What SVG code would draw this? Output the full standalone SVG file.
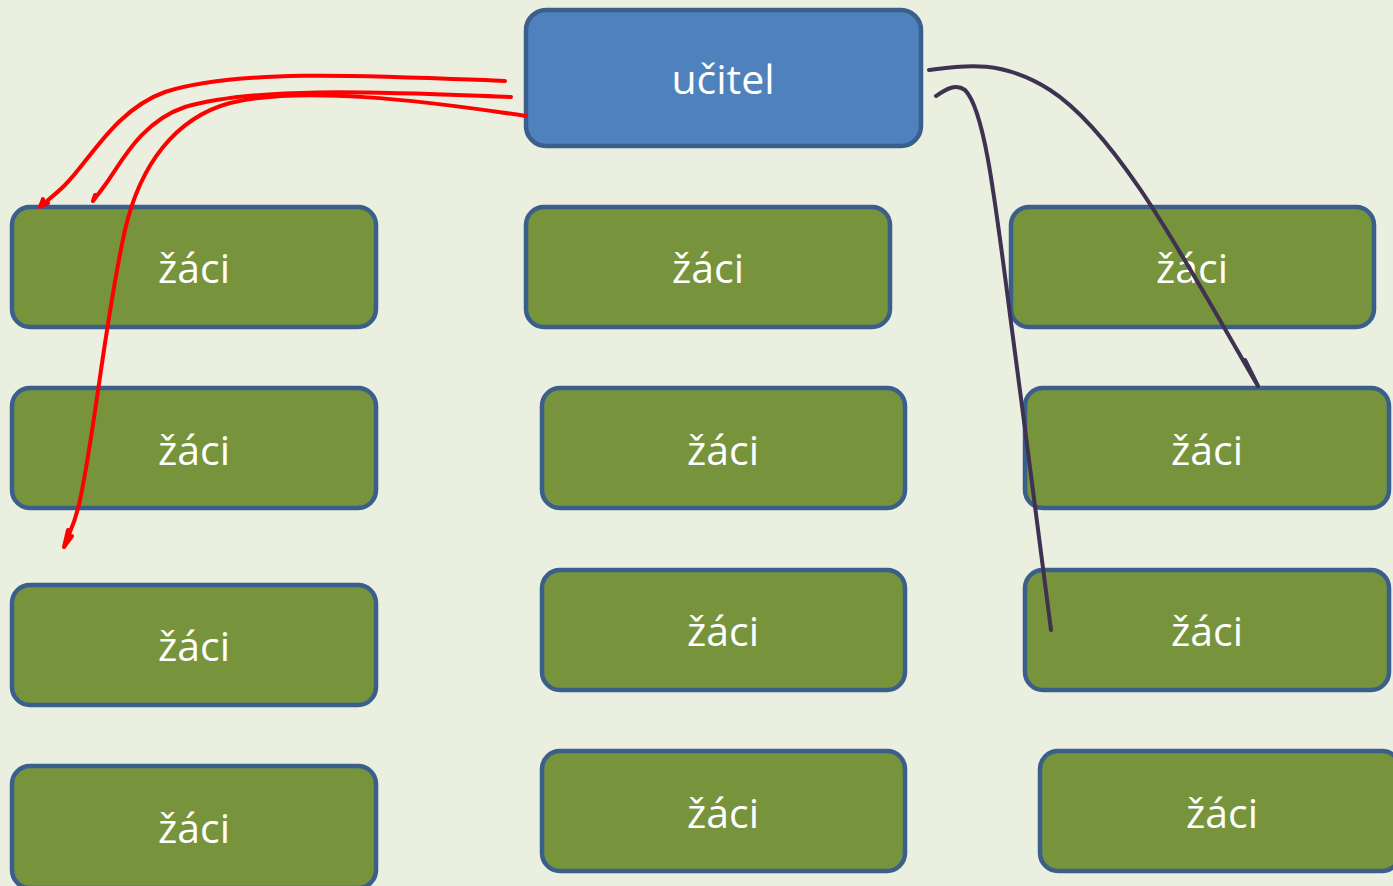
<svg xmlns="http://www.w3.org/2000/svg" width="1393" height="886" viewBox="0 0 1393 886">
<style>
.bg{fill:#EBEFDF}
.t{fill:#4F81BD;stroke:#3A5F8B;stroke-width:4.5}
.g{fill:#77933C;stroke:#3A5F8B;stroke-width:4.5}
text{font-family:"Open Sans","Noto Sans","Liberation Sans",sans-serif;font-size:41px;fill:#FFFFFF;text-anchor:middle}
.red{fill:none;stroke:#FF0000;stroke-width:4;stroke-linecap:round;stroke-linejoin:round}
.ink{fill:none;stroke:#3F3151;stroke-width:4;stroke-linecap:round;stroke-linejoin:round}
</style>
<rect class="bg" x="0" y="0" width="1393" height="886"/>
<g id="ucitel"><rect class="t" x="526" y="10" width="395" height="136" rx="20"/><text x="723" y="94">učitel</text></g>
<g id="n11"><rect class="g" x="12" y="207" width="364" height="120" rx="18"/><text x="194" y="283">žáci</text></g>
<g id="n21"><rect class="g" x="12" y="388" width="364" height="120" rx="18"/><text x="194" y="465">žáci</text></g>
<g id="n31"><rect class="g" x="12" y="585" width="364" height="120" rx="18"/><text x="194" y="661">žáci</text></g>
<g id="n41"><rect class="g" x="12" y="766" width="364" height="122" rx="18"/><text x="194" y="843">žáci</text></g>
<g id="n12"><rect class="g" x="526" y="207" width="364" height="120" rx="18"/><text x="708" y="283">žáci</text></g>
<g id="n22"><rect class="g" x="542" y="388" width="363" height="120" rx="18"/><text x="723" y="465">žáci</text></g>
<g id="n32"><rect class="g" x="542" y="570" width="363" height="120" rx="18"/><text x="723" y="646">žáci</text></g>
<g id="n42"><rect class="g" x="542" y="751" width="363" height="120" rx="18"/><text x="723" y="828">žáci</text></g>
<g id="n13"><rect class="g" x="1011" y="207" width="363" height="120" rx="18"/><text x="1192" y="283">žáci</text></g>
<g id="n23"><rect class="g" x="1025" y="388" width="364" height="120" rx="18"/><text x="1207" y="465">žáci</text></g>
<g id="n33"><rect class="g" x="1025" y="570" width="364" height="120" rx="18"/><text x="1207" y="646">žáci</text></g>
<g id="n43"><rect class="g" x="1040" y="751" width="360" height="120" rx="18"/><text x="1222" y="828">žáci</text></g>
<g id="connectors">
<path class="red" d="M505,81 C380,76 240,68 165,92 C115,110 90,160 65,185 C55,195 45,202 40,207 M40,207 L43,199 M40,207 L48,203"/>
<path class="red" d="M511,97 C400,93 260,85 185,107 C140,122 120,165 105,185 C100,192 96,197 93,201 M93,201 L95,195"/>
<path class="red" d="M526,116 C420,100 300,86 230,103 C175,118 140,165 125,230 C105,320 95,430 80,500 C75,525 68,535 64,547 M64,547 L68,530 M64,547 L72,536"/>
<path class="ink" d="M929,70 C960,66 1000,58 1050,90 C1120,135 1190,270 1258,386 M1258,386 L1245,360"/>
<path class="ink" d="M936,96 C945,90 955,83 965,90 C985,110 995,200 1012,330 C1025,430 1040,540 1051,630"/>
</g>
</svg>
